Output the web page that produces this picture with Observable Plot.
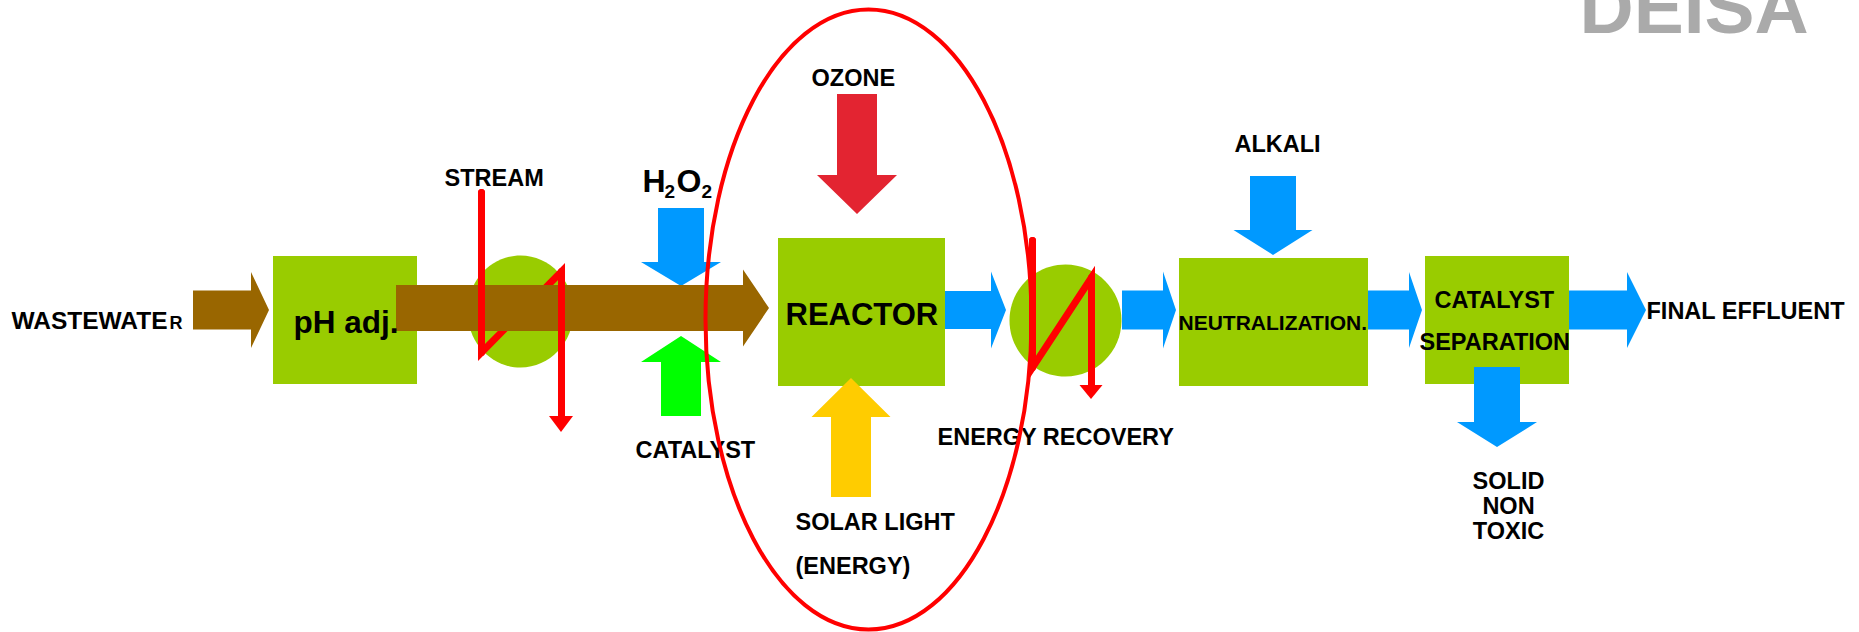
<!DOCTYPE html>
<html><head><meta charset="utf-8">
<script src="https://cdn.jsdelivr.net/npm/d3@7"></script>
<script src="https://cdn.jsdelivr.net/npm/@observablehq/plot@0.6"></script>
<style>
html,body{margin:0;padding:0;background:#fff;}
svg{display:block;}
</style>
</head><body><div id="chart"></div>
<script>
// ---- diagram data (diagram coordinate space: 1859 x 632, y downward) ----
const units = [
  {name: "pH adj.", x1: 273, x2: 417, y1: 256, y2: 384},
  {name: "REACTOR", x1: 778, x2: 945, y1: 238, y2: 386},
  {name: "NEUTRALIZATION.", x1: 1179, x2: 1368, y1: 258, y2: 386},
  {name: "CATALYST SEPARATION", x1: 1425, x2: 1569, y1: 256, y2: 384}
];
const exchangers = [
  {name: "stream exchanger", x: 520, y: 311, rx: 53, ry: 56},
  {name: "energy recovery", x: 1065, y: 320, rx: 56, ry: 56}
];
const reactorZone = [{name: "reactor zone", x: 868, y: 319, rx: 163, ry: 310}];

// horizontal flows: tail, head base, tip, centre line, shaft half width, head half width
const flowsH = [
  {id: "wastewater in", flow: "wastewater", x0: 193, xh: 251, xt: 269, yc: 310, sw: 19.5, hw: 38},
  {id: "to reactor", flow: "wastewater", x0: 396, xh: 743, xt: 769, yc: 308, sw: 23, hw: 38.5},
  {id: "reactor out", flow: "water", x0: 945, xh: 991, xt: 1006, yc: 310, sw: 19, hw: 38.5},
  {id: "to neutralization", flow: "water", x0: 1122, xh: 1163, xt: 1176, yc: 310, sw: 19.5, hw: 38.5},
  {id: "to separation", flow: "water", x0: 1368, xh: 1409, xt: 1422, yc: 310, sw: 19.5, hw: 38},
  {id: "final effluent", flow: "water", x0: 1569, xh: 1627, xt: 1646, yc: 310, sw: 19.5, hw: 38}
];
// vertical flows: tail, head base, tip (down when tip > tail)
const flowsV = [
  {id: "h2o2", flow: "water", xc: 681, y0: 208, yh: 262, yt: 286, sw: 23, hw: 40},
  {id: "ozone", flow: "ozone", xc: 857, y0: 94, yh: 175, yt: 214, sw: 20, hw: 40},
  {id: "catalyst", flow: "catalyst", xc: 681, y0: 416, yh: 362, yt: 336, sw: 20, hw: 40},
  {id: "solar", flow: "solar", xc: 851, y0: 497, yh: 417, yt: 378, sw: 20, hw: 39.5},
  {id: "alkali", flow: "water", xc: 1273, y0: 176, yh: 230, yt: 255, sw: 23, hw: 39.5},
  {id: "solid", flow: "water", xc: 1497, y0: 367, yh: 422, yt: 447, sw: 23, hw: 40}
];
const flowTypes = ["wastewater", "water", "ozone", "catalyst", "solar", "heat"];
const flowColors = ["#996600", "#0099ff", "#e32431", "#00ff00", "#ffcc00", "#ff0000"];

// heat exchange lines (red zig-zags)
const heatLines = [
  {id: "stream", pts: [[481, 192], [481, 352], [561, 271], [561, 418]], head: {xc: 561, yh: 416, yt: 432, hw: 12}},
  {id: "recovery", pts: [[1032, 240], [1032, 367], [1091, 277], [1091, 387]], head: {xc: 1091, yh: 385, yt: 399, hw: 11.5}}
];

const labels = [
  {text: "STREAM", x: 444, y: 185},
  {text: "CATALYST", x: 635, y: 457},
  {text: "OZONE", x: 811, y: 85},
  {text: "SOLAR LIGHT", x: 795, y: 529},
  {text: "(ENERGY)", x: 795, y: 573},
  {text: "ENERGY RECOVERY", x: 937, y: 444},
  {text: "ALKALI", x: 1234, y: 151},
  {text: "CATALYST", x: 1434, y: 307},
  {text: "SEPARATION", x: 1419, y: 349},
  {text: "FINAL EFFLUENT", x: 1646, y: 318}
];
const stackedLabels = [
  {text: "SOLID", x: 1508, y: 488},
  {text: "NON", x: 1508, y: 513},
  {text: "TOXIC", x: 1508, y: 538}
];
const inletLabel = [{text: "WASTEWATE", x: 167, y: 328}];
const unitLabels = [
  {text: "pH adj.", x: 293, y: 332, size: 31.5},
  {text: "REACTOR", x: 785, y: 324, size: 31},
  {text: "NEUTRALIZATION.", x: 1178, y: 329, size: 21},
  {text: "R", x: 169, y: 328, size: 18}
];
const formula = [
  {text: "H", x: 642, y: 191, size: 32},
  {text: "2", x: 664, y: 197, size: 19},
  {text: "O", x: 676, y: 191, size: 32},
  {text: "2", x: 701, y: 197, size: 19}
];
const logo = [{text: "DEISA", x: 1579, y: 32}];

// ---- geometry builders ----
function hPoly(a) {
  return [
    {id: a.id, flow: a.flow, x1: a.x0, x2: a.x0, y1: a.yc - a.sw, y2: a.yc + a.sw},
    {id: a.id, flow: a.flow, x1: a.xh, x2: a.xh, y1: a.yc - a.sw, y2: a.yc + a.sw},
    {id: a.id, flow: a.flow, x1: a.xh, x2: a.xh, y1: a.yc - a.hw, y2: a.yc + a.hw},
    {id: a.id, flow: a.flow, x1: a.xt, x2: a.xt, y1: a.yc, y2: a.yc}
  ];
}
function vPoly(a) {
  const pts = [];
  if (a.y0 !== undefined) pts.push({id: a.id, flow: a.flow, y1: a.y0, y2: a.y0, x1: a.xc - a.sw, x2: a.xc + a.sw});
  if (a.sw !== undefined) pts.push({id: a.id, flow: a.flow, y1: a.yh, y2: a.yh, x1: a.xc - a.sw, x2: a.xc + a.sw});
  pts.push({id: a.id, flow: a.flow, y1: a.yh, y2: a.yh, x1: a.xc - a.hw, x2: a.xc + a.hw});
  pts.push({id: a.id, flow: a.flow, y1: a.yt, y2: a.yt, x1: a.xc, x2: a.xc});
  return pts;
}
const hPolys = flowsH.flatMap(hPoly);
const vPolys = flowsV.flatMap(vPoly);
const heatHeads = heatLines.flatMap(h => vPoly({id: h.id, flow: "heat", ...h.head}));
const heatPts = heatLines.flatMap(h => h.pts.map(([x, y], i) => ({id: h.id, x, y, i})));
const heatVerticals = heatLines.flatMap(h => [
  {id: h.id + "a", x: h.pts[0][0], y: h.pts[0][1]}, {id: h.id + "a", x: h.pts[1][0], y: h.pts[1][1]},
  {id: h.id + "b", x: h.pts[2][0], y: h.pts[2][1]}, {id: h.id + "b", x: h.pts[3][0], y: h.pts[3][1]}
]);

function ellipseSymbol(aspect) {
  return {
    draw(ctx, size) {
      const rx = Math.sqrt(size / Math.PI), ry = rx * aspect, k = 0.5522847498;
      ctx.moveTo(rx, 0);
      ctx.bezierCurveTo(rx, ry * k, rx * k, ry, 0, ry);
      ctx.bezierCurveTo(-rx * k, ry, -rx, ry * k, -rx, 0);
      ctx.bezierCurveTo(-rx, -ry * k, -rx * k, -ry, 0, -ry);
      ctx.bezierCurveTo(rx * k, -ry, rx, -ry * k, rx, 0);
      ctx.closePath();
    }
  };
}

const font = "'Liberation Sans', Arial, Helvetica, sans-serif";
const txt = {x: "x", y: "y", text: "text", lineAnchor: "bottom", fontWeight: "bold", fill: "#000", fontFamily: font};

const chart = Plot.plot({
  width: 1859,
  height: 632,
  margin: 0,
  x: {domain: [0, 1859], range: [0, 1859], axis: null},
  y: {domain: [0, 632], range: [0, 632], axis: null},
  color: {domain: flowTypes, range: flowColors, type: "ordinal"},
  style: {background: "#fff"},
  marks: [
    Plot.rect(units, {x1: "x1", x2: "x2", y1: "y1", y2: "y2", fill: "#99cc00"}),
    ...exchangers.map(e => Plot.dot([e], {x: "x", y: "y", r: e.rx, symbol: ellipseSymbol(e.ry / e.rx), fill: "#99cc00", stroke: "none"})),
    Plot.line(heatPts, {x: "x", y: "y", z: "id", stroke: "#ff0000", strokeWidth: 7, strokeLinejoin: "miter", strokeMiterlimit: 10}),
    Plot.area(vPolys, {x1: "x1", x2: "x2", y1: "y1", y2: "y2", z: "id", fill: "flow"}),
    Plot.area(hPolys, {x1: "x1", x2: "x2", y1: "y1", y2: "y2", z: "id", fill: "flow"}),
    Plot.line(heatVerticals, {x: "x", y: "y", z: "id", stroke: "#ff0000", strokeWidth: 7}),
    Plot.area(heatHeads, {x1: "x1", x2: "x2", y1: "y1", y2: "y2", z: "id", fill: "flow"}),
    Plot.text(labels, {...txt, textAnchor: "start", fontSize: 23.5}),
    Plot.text(stackedLabels, {...txt, textAnchor: "middle", fontSize: 23.5}),
    Plot.text(inletLabel, {...txt, textAnchor: "end", fontSize: 24.5}),
    ...unitLabels.map(l => Plot.text([l], {...txt, textAnchor: "start", fontSize: l.size})),
    ...formula.map(l => Plot.text([l], {...txt, textAnchor: "start", fontSize: l.size})),
    Plot.text(logo, {...txt, fill: "#aaaaaa", textAnchor: "start", fontSize: 75}),
    Plot.dot(reactorZone, {x: "x", y: "y", r: reactorZone[0].rx, symbol: ellipseSymbol(reactorZone[0].ry / reactorZone[0].rx), fill: "none", stroke: "#ff0000", strokeWidth: 4})
  ]
});
document.getElementById("chart").appendChild(chart);
</script>
</body></html>
